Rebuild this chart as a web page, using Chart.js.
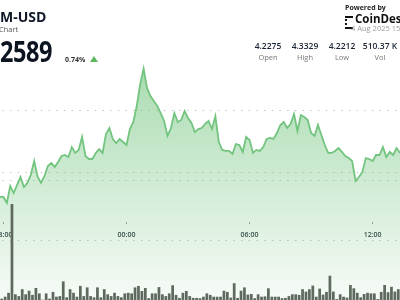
<!DOCTYPE html>
<html>
<head>
<meta charset="utf-8">
<script src="https://cdn.jsdelivr.net/npm/chart.js@4/dist/chart.umd.min.js"></script>
<style>
  html, body { margin: 0; padding: 0; background: #fff; }
  #wrap { position: relative; width: 400px; height: 300px; overflow: hidden; font-family: "Open Sans", sans-serif; }
  #wrap canvas { position: absolute; left: 0; top: 0; }
  .t { position: absolute; white-space: nowrap; line-height: 1; }
  #pair { left: 0; top: 10px; font-size: 14px; font-weight: 700; color: #101828; }
  #sub { left: -1px; top: 26px; font-size: 7.5px; color: #555; }
  #last { left: 0; top: 37px; font-size: 28px; font-weight: 700; color: #0d1421; transform: scaleX(0.84); transform-origin: left top; letter-spacing: -0.5px; }
  #chg { left: 65px; top: 56px; font-size: 7px; font-weight: 700; color: #333; }
  #tri { position: absolute; left: 90px; top: 56px; width: 0; height: 0; border-left: 4px solid transparent; border-right: 4px solid transparent; border-bottom: 6px solid #5cb85c; }
  #powered { left: 345px; top: 4px; font-size: 7px; font-weight: 700; color: #222; }
  #logo { position: absolute; left: 345px; top: 16px; width: 6px; height: 9px; border-left: 2px dotted #111; border-top: 2px solid #111; border-bottom: 2px solid #111; }
  #brand { left: 355px; top: 13px; font-size: 11.5px; font-weight: 700; color: #111; }
  #stamp { left: 351px; top: 25px; font-size: 7.5px; color: #9a9a9a; }
  .val { top: 42px; font-size: 8.5px; font-weight: 600; color: #1a2433; transform: translateX(-50%); }
  .lab { top: 54px; font-size: 7.5px; color: #777; transform: translateX(-50%); }
</style>
</head>
<body>
<div id="wrap">
  <canvas id="chart" width="400" height="300"></canvas>
  <div class="t" id="pair">M-USD</div>
  <div class="t" id="sub">Chart</div>
  <div class="t" id="last">2589</div>
  <div class="t" id="chg">0.74%</div>
  <div id="tri"></div>
  <div class="t" id="powered">Powered by</div>
  <div id="logo"></div>
  <div class="t" id="brand">CoinDesk</div>
  <div class="t" id="stamp">4 Aug 2025 15:</div>
  <div id="stats"></div>
</div>
<script>
// Datos (precio cada 10 min, volumen en miles)
const precios = [
  4.2310, 4.2310, 4.2262, 4.2397, 4.2341, 4.2405, 4.2468, 4.2389, 4.2421, 4.2484,
  4.2595, 4.2468, 4.2421, 4.2476, 4.2556, 4.2579, 4.2548, 4.2587, 4.2635, 4.2643,
  4.2627, 4.2706, 4.2659, 4.2683, 4.2786, 4.2635, 4.2611, 4.2611, 4.2659, 4.2690,
  4.2659, 4.2810, 4.2857, 4.2770, 4.2738, 4.2770, 4.2746, 4.2722, 4.2849, 4.2905,
  4.3032, 4.3206, 4.3329, 4.3175, 4.3111, 4.3071, 4.3032, 4.2976, 4.2913, 4.2794,
  4.2857, 4.2976, 4.2905, 4.2921, 4.2992, 4.2937, 4.2897, 4.2825, 4.2849, 4.2857,
  4.2889, 4.2913, 4.2849, 4.2952, 4.2746, 4.2683, 4.2675, 4.2675, 4.2651, 4.2730,
  4.2722, 4.2667, 4.2786, 4.2762, 4.2659, 4.2683, 4.2675, 4.2706, 4.2770, 4.2778,
  4.2770, 4.2817, 4.2881, 4.2905, 4.2857, 4.2889, 4.2968, 4.2833, 4.2960, 4.2944,
  4.2921, 4.2817, 4.2794, 4.2881, 4.2802, 4.2722, 4.2659, 4.2659, 4.2675, 4.2698,
  4.2667, 4.2635, 4.2619, 4.2595, 4.2437, 4.2468, 4.2508, 4.2619, 4.2611, 4.2595,
  4.2643, 4.2643, 4.2706, 4.2627, 4.2667, 4.2643, 4.2698, 4.2659
];

const volumenes = [
  0.45, 1.1, 2.4, 32.0, 1.9, 1.3, 3.6, 1.9, 3.1, 1.7,
  4.0, 2.2, 0.1, 2.2, 0.45, 2.7, 1.1, 1.3, 6.2, 0.9,
  3.6, 2.4, 1.1, 4.7, 1.3, 4.2, 1.3, 0.9, 4.2, 0.9,
  3.6, 1.9, 1.3, 2.4, 1.3, 0.9, 2.2, 2.4, 2.2, 4.2,
  4.7, 3.0, 4.0, 0.6, 2.2, 2.2, 4.3, 1.9, 1.3, 2.2,
  4.9, 1.7, 0.7, 2.4, 3.0, 1.3, 0.7, 0.7, 0.6, 1.1,
  2.2, 1.7, 1.1, 1.1, 1.1, 3.1, 2.7, 0.8, 5.6, 0.7,
  3.1, 4.2, 1.8, 2.0, 0.6, 1.9, 1.1, 1.2, 3.9, 1.1,
  1.1, 1.1, 0.6, 0.7, 1.3, 1.9, 1.9, 1.7, 3.6, 2.8,
  3.6, 4.8, 1.1, 3.8, 1.8, 2.7, 8.1, 2.8, 0.3, 1.9,
  1.1, 0.8, 5.0, 3.9, 2.4, 0.9, 2.0, 2.4, 2.2, 2.2,
  0.3, 2.7, 5.0, 2.6, 4.4, 2.8, 3.6
];

const horas = ['18:00', '00:00', '06:00', '12:00'];
const horasIdx = [1, 37, 73, 109];
const precioGrid = [4.25, 4.30];
const volGrid = [20, 40];

const resumenValores = ['4.2275', '4.3329', '4.2212', '510.37 K'];
const resumenEtiquetas = ['Open', 'High', 'Low', 'Vol'];
const resumenX = [268, 305, 342, 380];

// Cabecera OHLC
const stats = document.getElementById('stats');
for (let i = 0; i < resumenValores.length; i++) {
    const v = document.createElement('div');
    v.className = 't val';
    v.style.left = resumenX[i] + 'px';
    v.textContent = resumenValores[i];
    stats.appendChild(v);
    const l = document.createElement('div');
    l.className = 't lab';
    l.style.left = resumenX[i] + 'px';
    l.textContent = resumenEtiquetas[i];
    stats.appendChild(l);
}

const colorLinea = '#72c47e';
const colorBarra = '#5f6a5f';
const colorGrid = '#c4c4c4';

function rellenoGradiente(ctx) {
    const area = ctx.chart.chartArea;
    if (!area) return 'rgba(114,196,126,0.3)';
    const g = ctx.chart.ctx.createLinearGradient(0, area.top + 60, 0, area.bottom);
    g.addColorStop(0, 'rgba(114,196,126,0.62)');
    g.addColorStop(1, 'rgba(114,196,126,0.06)');
    return g;
}

const ctx = document.getElementById('chart').getContext('2d');
new Chart(ctx, {
    data: {
        datasets: [
            {
                type: 'line',
                data: precios.map((p, i) => ({ x: i, y: p })),
                yAxisID: 'y',
                borderColor: colorLinea,
                borderWidth: 1.8,
                pointRadius: 0,
                tension: 0,
                fill: 'start',
                backgroundColor: rellenoGradiente,
                order: 1
            },
            {
                type: 'bar',
                data: volumenes.map((v, i) => ({ x: i + 0.5, y: v })),
                yAxisID: 'yv',
                backgroundColor: colorBarra,
                categoryPercentage: 1,
                barPercentage: 0.8,
                order: 0
            }
        ]
    },
    options: {
        responsive: false,
        animation: false,
        layout: { padding: 0, autoPadding: false },
        plugins: { legend: { display: false }, tooltip: { enabled: false } },
        scales: {
            x: {
                type: 'linear',
                min: 0,
                max: 117,
                offset: false,
                position: { yv: 26 },
                afterBuildTicks: (s) => { s.ticks = horasIdx.map(v => ({ value: v })); },
                afterFit: (s) => { s.paddingLeft = 0; s.paddingRight = 0; },
                ticks: {
                    autoSkip: false,
                    maxRotation: 0,
                    padding: 7,
                    color: '#1f2a37',
                    font: { family: 'Open Sans', size: 7, weight: '600' },
                    callback: (v) => horas[horasIdx.indexOf(v)] || ''
                },
                grid: { offset: false, drawOnChartArea: false, drawTicks: true, tickLength: 2, tickColor: '#9a9a9a', tickWidth: 1 },
                border: { display: false }
            },
            y: {
                position: 'left',
                min: 4.149206,
                max: 4.387302,
                afterBuildTicks: (s) => { s.ticks = precioGrid.map(v => ({ value: v })); },
                ticks: { display: false },
                grid: { color: colorGrid, lineWidth: 1, drawTicks: false },
                border: { display: false, dash: [1.5, 6.2], dashOffset: 5.4 }
            },
            yv: {
                position: 'right',
                min: 0,
                max: 100,
                afterBuildTicks: (s) => { s.ticks = volGrid.map(v => ({ value: v })); },
                ticks: { display: false },
                grid: { color: colorGrid, lineWidth: 1, drawTicks: false },
                border: { display: false, dash: [1.5, 6.2], dashOffset: 5.4 }
            }
        }
    }
});
</script>
</body>
</html>
